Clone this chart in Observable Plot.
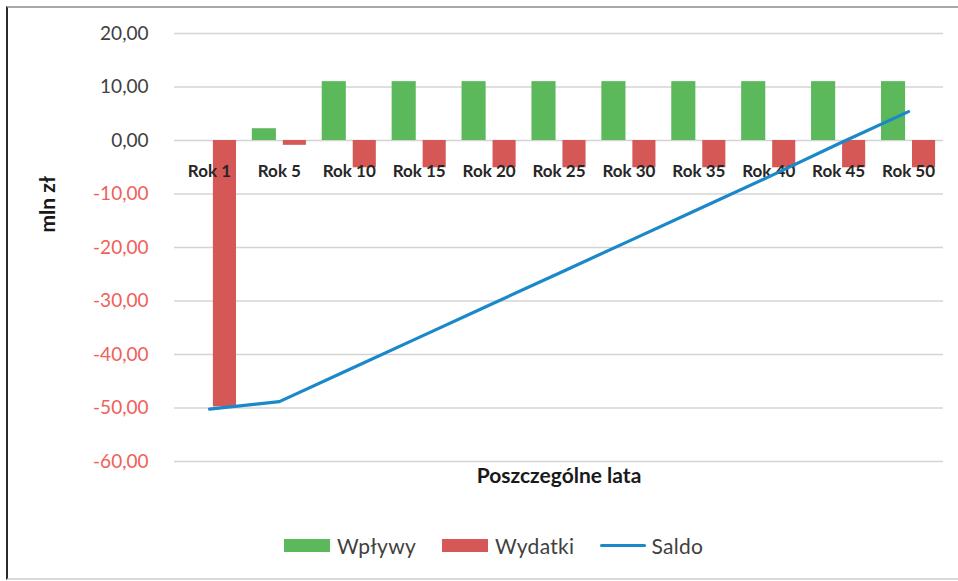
<!DOCTYPE html>
<html>
<head>
<meta charset="utf-8">
<script src="https://cdn.jsdelivr.net/npm/d3@7"></script>
<script src="https://cdn.jsdelivr.net/npm/@observablehq/plot@0.6"></script>
<style>
  html, body { margin: 0; padding: 0; background: #fff; }
  body { width: 958px; height: 581px; position: relative; overflow: hidden; font-family: Lato, "Open Sans", sans-serif; }
  #frame { position: absolute; left: 6px; top: 6px; width: 952px; height: 574px; box-sizing: border-box;
           border-top: 2px solid #a8a8a8; border-left: 2px solid #2a2a2a; border-bottom: 2px solid #d9d9d9; }
  #chart { position: absolute; left: 0; top: 0; }
  #legend { position: absolute; left: 284px; top: 533px; display: flex; align-items: center; font-size: 21px; color: #404040; }
  .sw { width: 46px; height: 13px; margin-right: 7px; }
  .ln { width: 46px; height: 3px; margin-right: 5px; border-radius: 2px; }
  .lab { margin-right: 26px; letter-spacing: 0.3px; }
</style>
</head>
<body>
<div id="frame"></div>
<div id="chart"></div>
<div id="legend"></div>
<script>
const categories = ["Rok 1","Rok 5","Rok 10","Rok 15","Rok 20","Rok 25","Rok 30","Rok 35","Rok 40","Rok 45","Rok 50"];
const wplywy  = [0, 2.2, 11.0, 11.0, 11.0, 11.0, 11.0, 11.0, 11.0, 11.0, 11.0];
const wydatki = [-49.8, -0.9, -5.1, -5.1, -5.1, -5.1, -5.1, -5.1, -5.1, -5.1, -5.1];
const saldo   = [-50.2, -48.8, -42.8, -36.8, -30.8, -24.8, -18.8, -12.8, -6.8, -0.6, 5.4];
const yTicks = [20, 10, 0, -10, -20, -30, -40, -50, -60];
const seriesNames = ["Wpływy", "Wydatki", "Saldo"];
const colors = ["#5bb85b", "#d65856", "#1b88c9"];

const rows = categories.map((c, i) => ({cat: c, wplywy: wplywy[i], wydatki: wydatki[i], saldo: saldo[i]}));
const fmt = d => d.toFixed(2).replace(".", ",");

const chart = Plot.plot({
  width: 958,
  height: 520,
  marginLeft: 174,
  marginRight: 15,
  marginTop: 33,
  marginBottom: 59,
  style: {fontFamily: "Lato, 'Open Sans', sans-serif", background: "transparent"},
  x: {type: "band", domain: categories, paddingInner: 0.226, paddingOuter: 0.113, round: false, axis: null},
  y: {domain: [-60, 20], axis: null},
  marks: [
    Plot.gridY(yTicks, {stroke: "#d4d4d4", strokeOpacity: 1, strokeWidth: 1.5}),
    Plot.axisY(yTicks.filter(d => d >= 0), {tickSize: 0, tickPadding: 26, tickFormat: fmt, fontSize: 19, fill: "#404040", label: null}),
    Plot.axisY(yTicks.filter(d => d < 0), {tickSize: 0, tickPadding: 26, tickFormat: fmt, fontSize: 19, fill: "#f0605a", label: null}),
    Plot.barY(rows, {x: "cat", y: "wplywy", fill: colors[0], insetRight: 30}),
    Plot.barY(rows, {x: "cat", y: "wydatki", fill: colors[1], insetLeft: 31}),
    Plot.text(categories, {x: d => d, y: d => 0, dy: 31, fontSize: 17, fontWeight: "bold", fill: "#262626"}),
    Plot.line(rows, {x: "cat", y: "saldo", stroke: colors[2], strokeWidth: 3.2}),
    Plot.text(["mln zł"], {frameAnchor: "left", dx: -126, dy: -15, rotate: -90, fontSize: 21, fontWeight: "bold", fill: "#1a1a1a"}),
    Plot.text(["Poszczególne lata"], {frameAnchor: "bottom", dy: 21, fontSize: 21, fontWeight: "bold", fill: "#1a1a1a"})
  ]
});
document.getElementById("chart").appendChild(chart);

const legend = document.getElementById("legend");
seriesNames.forEach((name, i) => {
  const sw = document.createElement("div");
  sw.className = i === 2 ? "ln" : "sw";
  sw.style.background = colors[i];
  legend.appendChild(sw);
  const lab = document.createElement("span");
  lab.className = "lab";
  lab.textContent = name;
  legend.appendChild(lab);
});
</script>
</body>
</html>
